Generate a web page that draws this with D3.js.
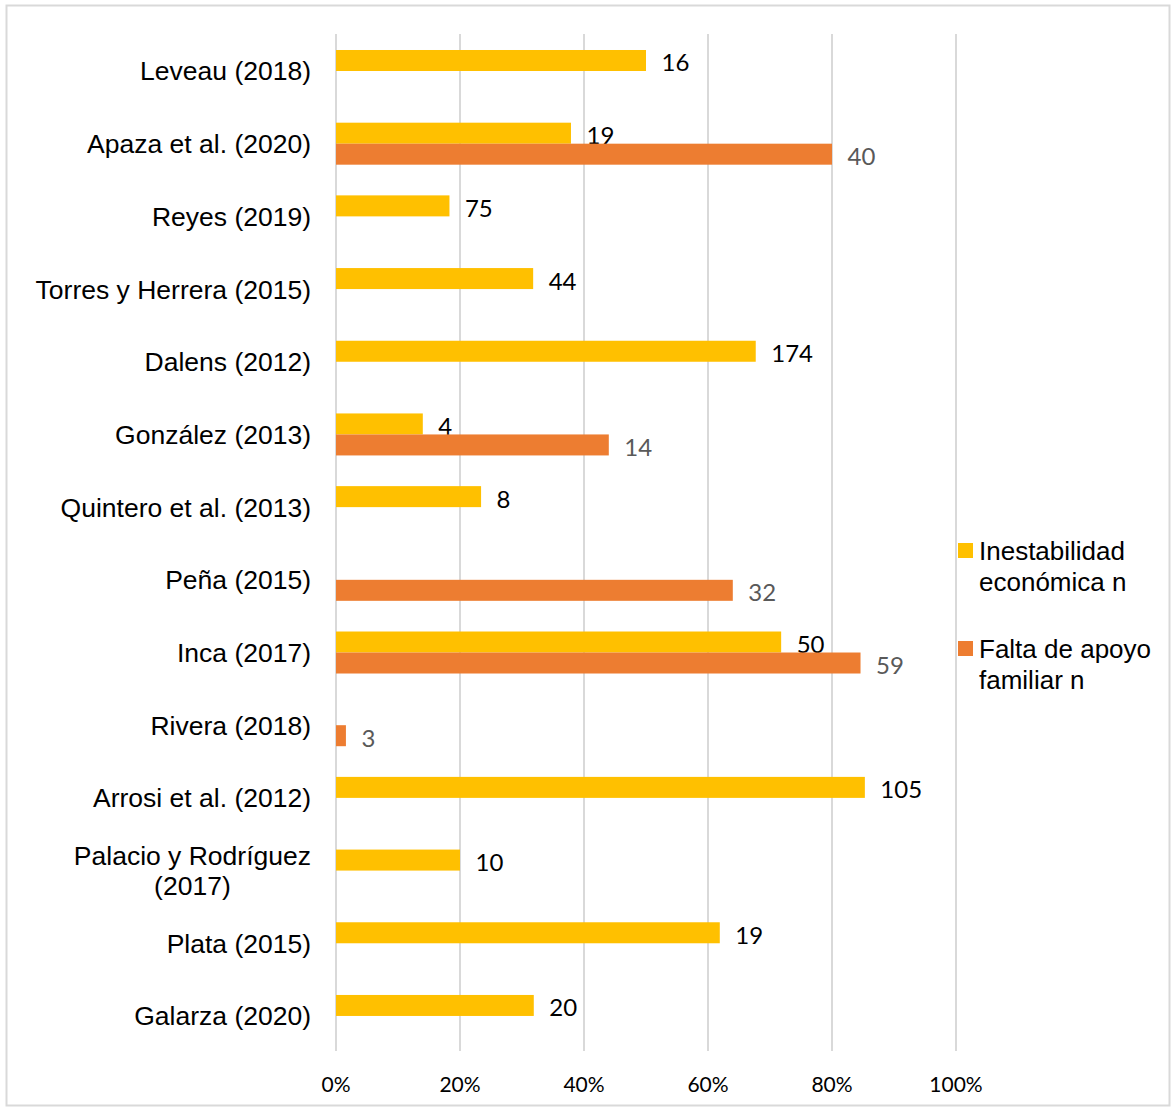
<!DOCTYPE html>
<html>
<head>
<meta charset="utf-8">
<script src="https://cdn.jsdelivr.net/npm/d3@7"></script>
<style>
html,body{margin:0;padding:0;background:#fff;}
svg{display:block;}
</style>
</head>
<body>
<svg id="chart" width="1172" height="1108"></svg>
<script>
const categories = [
  "Leveau (2018)", "Apaza et al. (2020)", "Reyes (2019)", "Torres y Herrera (2015)",
  "Dalens (2012)", "González (2013)", "Quintero et al. (2013)", "Peña (2015)",
  "Inca (2017)", "Rivera (2018)", "Arrosi et al. (2012)", "Palacio y Rodríguez (2017)",
  "Plata (2015)", "Galarza (2020)"
];
const categoryLines = [
  ["Leveau (2018)"], ["Apaza et al. (2020)"], ["Reyes (2019)"], ["Torres y Herrera (2015)"],
  ["Dalens (2012)"], ["González (2013)"], ["Quintero et al. (2013)"], ["Peña (2015)"],
  ["Inca (2017)"], ["Rivera (2018)"], ["Arrosi et al. (2012)"], ["Palacio y Rodríguez", "(2017)"],
  ["Plata (2015)"], ["Galarza (2020)"]
];
// percentage (bar length) and n (data label)
const inestabilidadPct = [50, 37.9, 18.3, 31.8, 67.7, 14.0, 23.4, null, 71.8, null, 85.3, 20.0, 61.9, 31.9];
const inestabilidadN   = [16, 19, 75, 44, 174, 4, 8, null, 50, null, 105, 10, 19, 20];
const faltaPct = [null, 80.0, null, null, null, 44.0, null, 64.0, 84.6, 1.6, null, null, null, null];
const faltaN   = [null, 40, null, null, null, 14, null, 32, 59, 3, null, null, null, null];
const seriesNames = ["Inestabilidad económica n", "Falta de apoyo familiar n"];
const legendLines = [["Inestabilidad", "económica n"], ["Falta de apoyo", "familiar n"]];
const xTicks = [0, 20, 40, 60, 80, 100];

const colors = ["#FFC000", "#ED7D31"];
const labelColors = ["#000000", "#595959"];

const svg = d3.select("#chart");

// outer border
svg.append("rect").attr("x", 6.5).attr("y", 5.5).attr("width", 1163).attr("height", 1100)
  .attr("fill", "#fff").attr("stroke", "#d9d9d9").attr("stroke-width", 2);

const x = d3.scaleLinear().domain([0, 100]).range([336, 956]);
const y = d3.scaleBand().domain(categories).range([34.65, 1052.3]).padding(0);
const ySub = d3.scaleBand().domain([0, 1]).range([-21, 21]);

// gridlines
svg.append("g").selectAll("line").data(xTicks).join("line")
  .attr("x1", d => x(d)).attr("x2", d => x(d))
  .attr("y1", 34).attr("y2", 1051)
  .attr("stroke", "#d9d9d9").attr("stroke-width", 2);

// x tick labels
svg.append("g").selectAll("text").data(xTicks).join("text")
  .attr("x", d => x(d)).attr("y", 1092)
  .attr("text-anchor", "middle")
  .attr("font-family", "Lato, 'Open Sans', sans-serif").attr("font-size", 21)
  .attr("fill", "#000")
  .text(d => d + "%");

// bars
const seriesData = [
  categories.map((c, i) => ({c, v: inestabilidadPct[i], n: inestabilidadN[i]})),
  categories.map((c, i) => ({c, v: faltaPct[i], n: faltaN[i]}))
];

seriesData.forEach((data, s) => {
  const valid = data.filter(d => d.v !== null);
  const g = svg.append("g");
  g.selectAll("rect").data(valid).join("rect")
    .attr("x", x(0))
    .attr("y", d => y(d.c) + y.bandwidth() / 2 + ySub(s))
    .attr("width", d => x(d.v) - x(0))
    .attr("height", ySub.bandwidth())
    .attr("fill", colors[s]);
  g.selectAll("text").data(valid).join("text")
    .attr("x", d => x(d.v) + 15.5)
    .attr("y", d => y(d.c) + y.bandwidth() / 2 + ySub(s) + ySub.bandwidth() / 2 + 11)
    .attr("font-family", "Lato, 'Open Sans', sans-serif").attr("font-size", 24)
    .attr("fill", labelColors[s])
    .text(d => d.n);
});

// category labels
const catFont = "'Liberation Sans', Arial, sans-serif";
const catSize = 26.5;
const catG = svg.append("g");
categories.forEach((c, i) => {
  const lines = categoryLines[i];
  const cy = y(c) + y.bandwidth() / 2;
  const t = catG.append("text")
    .attr("font-family", catFont).attr("font-size", catSize)
    .attr("fill", "#000");
  if (lines.length === 1) {
    t.attr("x", 311).attr("y", cy + 9.5).attr("text-anchor", "end").text(lines[0]);
  } else {
    const tmp = catG.append("text")
      .attr("font-family", catFont).attr("font-size", catSize)
      .text(lines[0]);
    const w = tmp.node().getComputedTextLength();
    tmp.remove();
    const cx = 311 - w / 2;
    t.attr("text-anchor", "middle");
    lines.forEach((ln, k) => {
      t.append("tspan").attr("x", cx).attr("y", cy + 9.5 + (k - (lines.length - 1) / 2) * 29.5).text(ln);
    });
  }
});

// legend
const legendY = [543, 641];
seriesNames.forEach((name, s) => {
  const g = svg.append("g");
  g.append("rect").attr("x", 958).attr("y", legendY[s]).attr("width", 15).attr("height", 15)
    .attr("fill", colors[s]);
  const t = g.append("text")
    .attr("font-family", catFont).attr("font-size", 26)
    .attr("fill", "#000");
  legendLines[s].forEach((ln, k) => {
    t.append("tspan").attr("x", 979).attr("y", legendY[s] + 17 + k * 31).text(ln);
  });
});
</script>
</body>
</html>
